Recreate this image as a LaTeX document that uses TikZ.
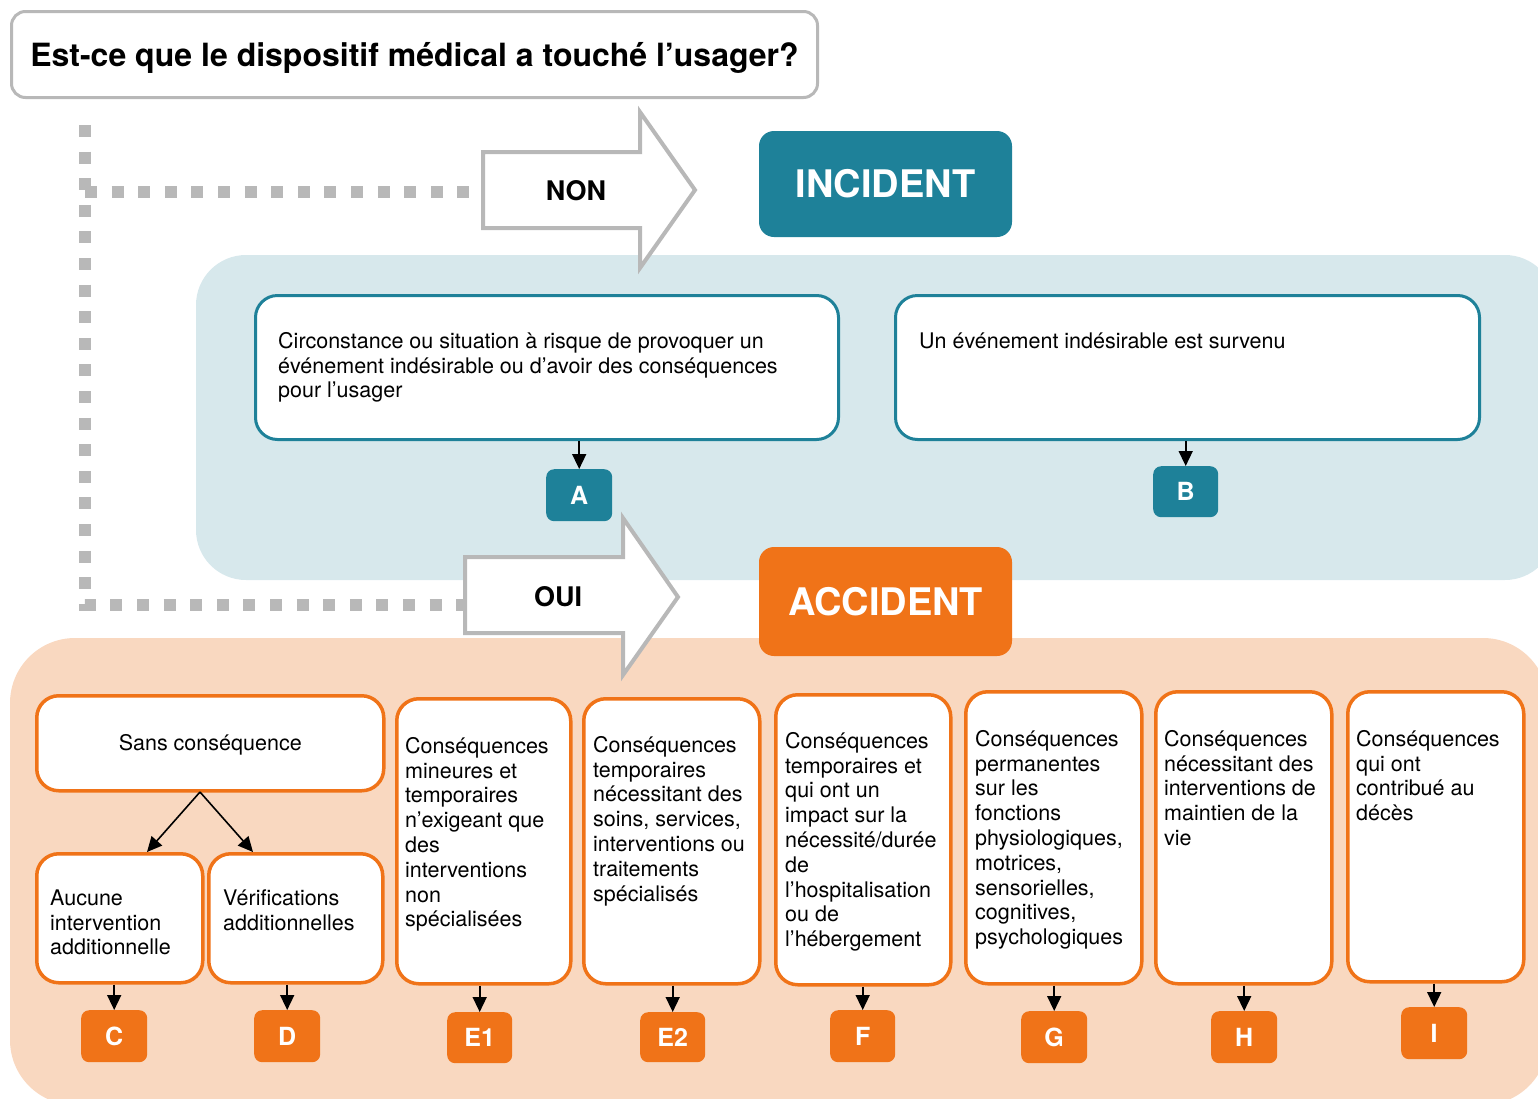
\documentclass[tikz,border=0pt]{standalone}
\usepackage{fontspec}
\setmainfont{TeX Gyre Heros}
\usetikzlibrary{arrows.meta,calc}
\definecolor{myteal}{RGB}{30,129,153}
\definecolor{bgblue}{RGB}{215,232,236}
\definecolor{myorange}{RGB}{240,115,24}
\definecolor{bgpeach}{RGB}{249,216,192}
\definecolor{mygray}{RGB}{184,184,184}
\newcommand{\mystrut}{\rule{0pt}{17pt}}
\tikzset{
  bodytxt/.style={font=\fontsize{21.5}{24.8}\selectfont, align=left, inner sep=0pt, anchor=north west},
  tealbox/.style={draw=myteal, line width=3pt, fill=white, rounded corners=22pt, inner sep=0pt, anchor=north west},
  orbox/.style={draw=myorange, line width=3.5pt, fill=white, rounded corners=22pt, inner sep=0pt, anchor=north west},
  tlabel/.style={fill=myteal, rounded corners=8pt, text=white, font=\fontsize{25}{25}\bfseries\selectfont, inner sep=0pt, anchor=north west, minimum width=66pt, minimum height=52pt},
  olabel/.style={fill=myorange, rounded corners=8pt, text=white, font=\fontsize{25}{25}\bfseries\selectfont, inner sep=0pt, anchor=north west, minimum width=66pt, minimum height=52pt},
  bigbox/.style={rounded corners=15pt, text=white, font=\fontsize{38}{38}\bfseries\selectfont, minimum width=253pt, inner sep=0pt},
  arrowshape/.style={draw=mygray, line width=4pt, fill=white, line join=miter},
  dots/.style={draw=mygray, line width=12pt, dash pattern=on 12pt off 14.6pt},
  arr/.style={line width=1.6pt, -{Triangle[width=14pt,length=15pt]}},
}
\begin{document}
\begin{tikzpicture}[x=1pt,y=-1pt]
\useasboundingbox (0,0) rectangle (1538,1098);
\clip (0,0) rectangle (1538,1098);
% background regions
\fill[bgblue, rounded corners=50pt] (196,255) rectangle (1555,580);
\fill[bgpeach, rounded corners=65pt] (10,638) rectangle (1548,1105);
% title
\node[draw=mygray, line width=3pt, fill=white, rounded corners=14pt, anchor=north west, minimum width=806pt, minimum height=86pt, inner sep=0pt, font=\fontsize{32}{32}\bfseries\selectfont] (title) at (10,10) {\raisebox{-3pt}[\height][\depth]{Est-ce que le dispositif médical a touché l’usager?}};
% dotted connectors
\coordinate (dtop) at (85,125);
\coordinate (dmid) at (85,192);
\coordinate (dbot) at (85,605);
\coordinate (nontail) at (483,192);
\coordinate (ouitail) at (465,605);
\draw[dots] (dtop) -- (dbot) -- (ouitail);
\draw[dots] (dmid) -- (nontail);
% big arrows
\draw[arrowshape] (483,152) -- (640,152) -- (640,112) -- (695,190) -- (640,268) -- (640,228) -- (483,228) -- cycle;
\node[font=\fontsize{27}{27}\bfseries\selectfont] (non) at (576,191) {NON};
\draw[arrowshape] (465,557) -- (623,557) -- (623,518) -- (678,597) -- (623,675) -- (623,633) -- (465,633) -- cycle;
\node[font=\fontsize{27}{27}\bfseries\selectfont] (oui) at (558,597) {OUI};
% incident / accident
\node[bigbox, fill=myteal, minimum height=106pt] (incident) at (885.5,184) {INCIDENT};
\node[bigbox, fill=myorange, minimum height=109pt] (accident) at (885.5,601.5) {ACCIDENT};
% incident boxes
\node[tealbox, minimum width=583pt, minimum height=144pt] (circ) at (254,294) {};
\node[bodytxt] (circtxt) at (278,331) {\mystrut Circonstance ou situation à risque de provoquer un\\événement indésirable ou d’avoir des conséquences\\pour l’usager};
\node[tealbox, minimum width=584pt, minimum height=144pt] (evt) at (894,294) {};
\node[bodytxt] (evttxt) at (919,331) {\mystrut Un événement indésirable est survenu};
\node[tlabel] (A) at (546,469) {A};
\node[tlabel, minimum width=65pt, minimum height=51pt] (B) at (1153,466) {B};
\draw[arr] (circ.south -| A.north) -- (A.north);
\draw[arr] (evt.south -| B.north) -- (B.north);
% accident boxes
\node[orbox, minimum width=347pt, minimum height=95pt, font=\fontsize{21.5}{24.8}\selectfont] (sans) at (35,694) {\raisebox{-2pt}[\height][\depth]{Sans conséquence}};
\node[orbox, minimum width=166pt, minimum height=129pt] (aucune) at (35,852) {};
\node[bodytxt] (aucunetxt) at (50,888) {\mystrut Aucune\\intervention\\additionnelle};
\node[orbox, minimum width=174pt, minimum height=129pt] (verif) at (207,852) {};
\node[bodytxt] (veriftxt) at (223,888) {\mystrut Vérifications\\additionnelles};
\node[orbox, minimum width=174pt, minimum height=285pt] (e1) at (395,697) {};
\node[bodytxt] (e1txt) at (405,736) {\mystrut Conséquences\\mineures et\\temporaires\\n’exigeant que\\des\\interventions\\non\\spécialisées};
\node[orbox, minimum width=176pt, minimum height=285pt] (e2) at (582,697) {};
\node[bodytxt] (e2txt) at (593,735) {\mystrut Conséquences\\temporaires\\nécessitant des\\soins, services,\\interventions ou\\traitements\\spécialisés};
\node[orbox, minimum width=175pt, minimum height=290pt] (f) at (774,693) {};
\node[bodytxt] (ftxt) at (785,731) {\mystrut Conséquences\\temporaires et\\qui ont un\\impact sur la\\nécessité/durée\\de\\l’hospitalisation\\ou de\\l’hébergement};
\node[orbox, minimum width=176pt, minimum height=292pt] (g) at (964,690) {};
\node[bodytxt] (gtxt) at (975,729) {\mystrut Conséquences\\permanentes\\sur les\\fonctions\\physiologiques,\\motrices,\\sensorielles,\\cognitives,\\psychologiques};
\node[orbox, minimum width=176pt, minimum height=292pt] (h) at (1154,690) {};
\node[bodytxt] (htxt) at (1164,729) {\mystrut Conséquences\\nécessitant des\\interventions de\\maintien de la\\vie};
\node[orbox, minimum width=176pt, minimum height=290pt] (i) at (1346,690) {};
\node[bodytxt] (itxt) at (1356,729) {\mystrut Conséquences\\qui ont\\contribué au\\décès};
% labels
\node[olabel] (C) at (81,1010) {C};
\node[olabel] (D) at (254,1010) {D};
\node[olabel, minimum width=65pt, minimum height=51pt] (E1) at (447,1012) {E1};
\node[olabel, minimum width=65pt, minimum height=50pt] (E2) at (640,1012) {E2};
\node[olabel, minimum width=65pt] (F) at (830,1010) {F};
\node[olabel] (G) at (1021,1011) {G};
\node[olabel] (H) at (1211,1011) {H};
\node[olabel] (I) at (1401,1007) {I};
% fork
\coordinate (fork) at (200,792);
\draw[arr] (fork) -- ($(aucune.north west)+(112,0)$);
\draw[arr] (fork) -- ($(verif.north west)+(46,0)$);
% vertical arrows
\draw[arr] (aucune.south -| C.north) -- (C.north);
\draw[arr] (verif.south -| D.north) -- (D.north);
\draw[arr] (e1.south -| E1.north) -- (E1.north);
\draw[arr] (e2.south -| E2.north) -- (E2.north);
\draw[arr] (f.south -| F.north) -- (F.north);
\draw[arr] (g.south -| G.north) -- (G.north);
\draw[arr] (h.south -| H.north) -- (H.north);
\draw[arr] (i.south -| I.north) -- (I.north);
\end{tikzpicture}
\end{document}
